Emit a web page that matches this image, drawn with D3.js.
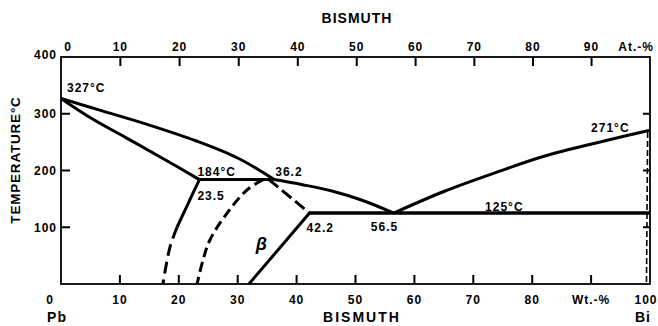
<!DOCTYPE html>
<html>
<head>
<meta charset="utf-8">
<script src="https://cdn.jsdelivr.net/npm/d3@7"></script>
<style>
  html, body { margin: 0; padding: 0; background: #fff; }
  svg { display: block; }
  text { font-family: "Liberation Sans", Arial, Helvetica, sans-serif; font-weight: bold; fill: #000; }
</style>
</head>
<body>
<svg id="chart" width="658" height="326"></svg>
<script>
// Pb–Bi phase diagram. Compositions in wt.-% Bi, temperatures in °C.

// Temperature axis
const tempTicks = [100, 200, 300];
const tempLabelValues = [100, 200, 300, 400];
const tempLabels = ["100", "200", "300", "400"];

// Composition axes
const wtTicks = [10, 20, 30, 40, 50, 60, 70, 80, 90];
const wtLabelValues = [0, 10, 20, 30, 40, 50, 60, 70, 80, 90, 100];
const wtLabels = ["0", "10", "20", "30", "40", "50", "60", "70", "80", "Wt.-%", "100"];
const atTicks = [10, 20, 30, 40, 50, 60, 70, 80, 90];
const atLabelValues = [0, 10, 20, 30, 40, 50, 60, 70, 80, 90, 100];
const atLabels = ["0", "10", "20", "30", "40", "50", "60", "70", "80", "90", "At.-%"];

// Atomic weights for converting at.-% to wt.-%
const massPb = 207.2;
const massBi = 208.98;

// Phase boundaries: [wt.-% Bi, °C]
const liquidusAlpha = [[0, 327], [7, 305], [15, 280], [23, 252], [30, 222], [36.2, 184]];
const liquidusBeta = [[36.2, 184], [41, 175], [46, 164], [51, 148], [56.5, 125]];
const liquidusBi = [[56.5, 125], [65, 163], [74, 197], [82, 225], [91, 249], [100, 271]];
const solidusAlpha = [[0, 327], [5, 293], [11, 258], [17, 223], [23.5, 184]];
const peritectic = [[23.5, 184], [36.2, 184]];
const eutectic = [[42.2, 125], [100, 125]];
const solvusAlpha = [[23.5, 184], [21.5, 140], [19.7, 100]];
const solvusAlphaLow = [[19.7, 100], [18.5, 65], [17.3, 0]];
const betaLeft = [[34.3, 184], [31.6, 166], [28.2, 125], [25.3, 78], [24.1, 42], [23.1, 0]];
const betaRightUpper = [[35.3, 184], [42.2, 125]];
const betaRightLower = [[42.2, 125], [31.9, 0]];
const solvusBi = [[99.6, 268], [99.4, 0]];

const svg = d3.select("#chart");

const x = d3.scaleLinear().domain([0, 100]).range([61, 650]);
const y = d3.scaleLinear().domain([0, 400]).range([284, 57]);
const atToWt = a => 100 * a * massBi / (a * massBi + (100 - a) * massPb);
const atPos = a => x(atToWt(a));

// Frame
svg.append("rect")
  .attr("x", x(0)).attr("y", y(400))
  .attr("width", x(100) - x(0)).attr("height", y(0) - y(400))
  .attr("fill", "none").attr("stroke", "#000").attr("stroke-width", 1.8);

// Inward ticks on all four sides, drawn as one path
const tickLen = 9;
let tickPath = "";
wtTicks.forEach(d => { tickPath += `M${x(d)},${y(0)}V${y(0) - tickLen}`; });
atTicks.forEach(d => { tickPath += `M${atPos(d)},${y(400)}V${y(400) + tickLen}`; });
tempTicks.forEach(d => { tickPath += `M${x(0)},${y(d)}H${x(0) + tickLen}`; });
tempTicks.forEach(d => { tickPath += `M${x(100)},${y(d)}H${x(100) - 7}`; });
svg.append("path")
  .attr("d", tickPath)
  .attr("fill", "none")
  .attr("stroke", "#000")
  .attr("stroke-width", 2);

// Tick labels
const labelFont = g => g.attr("font-size", 12).attr("letter-spacing", 1);

svg.append("g").call(labelFont).selectAll("text")
  .data(wtLabelValues).join("text")
  .attr("x", d => x(d) + (d === 0 ? -11 : d === 100 ? -4 : 0))
  .attr("y", 304)
  .attr("text-anchor", "middle")
  .text((d, i) => wtLabels[i]);

svg.append("g").call(labelFont).selectAll("text")
  .data(atLabelValues).join("text")
  .attr("x", d => d === 0 ? atPos(d) + 7 : d === 100 ? atPos(d) + 4 : atPos(d))
  .attr("y", 51)
  .attr("text-anchor", d => d === 100 ? "end" : "middle")
  .text((d, i) => atLabels[i]);

svg.append("g").call(labelFont).selectAll("text")
  .data(tempLabelValues).join("text")
  .attr("x", 57)
  .attr("y", d => y(d) + (d === 400 ? 2 : 4.5))
  .attr("text-anchor", "end")
  .text((d, i) => tempLabels[i]);

// Axis titles
svg.append("text").attr("x", 357).attr("y", 23).attr("text-anchor", "middle")
  .attr("font-size", 14).attr("letter-spacing", 1).text("BISMUTH");
svg.append("text").attr("x", 362).attr("y", 322).attr("text-anchor", "middle")
  .attr("font-size", 14).attr("letter-spacing", 2).text("BISMUTH");
svg.append("text").attr("x", 57).attr("y", 322).attr("text-anchor", "middle")
  .attr("font-size", 14).attr("letter-spacing", 1).text("Pb");
svg.append("text").attr("x", 643).attr("y", 322).attr("text-anchor", "middle")
  .attr("font-size", 14).attr("letter-spacing", 1).text("Bi");
svg.append("text")
  .attr("transform", "translate(20,160) rotate(-90)")
  .attr("text-anchor", "middle")
  .attr("font-size", 13.5).attr("letter-spacing", 0.8)
  .text("TEMPERATURE°C");

// Phase boundaries
const smooth = d3.line().x(d => x(d[0])).y(d => y(d[1])).curve(d3.curveCatmullRom.alpha(0.5));
const straight = d3.line().x(d => x(d[0])).y(d => y(d[1]));

const drawLine = (data, gen, width, dash) => {
  svg.append("path")
    .attr("d", gen(data))
    .attr("fill", "none")
    .attr("stroke", "#000")
    .attr("stroke-width", width)
    .attr("stroke-linecap", "butt")
    .attr("stroke-linejoin", "round")
    .attr("stroke-dasharray", dash || null);
};

drawLine(liquidusAlpha, smooth, 3);
drawLine(liquidusBeta, smooth, 3);
drawLine(liquidusBi, smooth, 3);
drawLine(solidusAlpha, smooth, 3);
drawLine(peritectic, straight, 3);
drawLine(eutectic, straight, 3.5);
drawLine(solvusAlpha, smooth, 3);
drawLine(solvusAlphaLow, smooth, 3, "12,6");
drawLine(betaLeft, smooth, 3, "10,5");
drawLine(betaRightUpper, straight, 3, "12,5");
drawLine(betaRightLower, straight, 3);
drawLine(solvusBi, straight, 1.6, "6,3");

// Point annotations
const notes = [
  { t: "327°C", x: x(0) + 6, y: y(327) - 6 },
  { t: "184°C", x: x(23.5) - 2, y: y(184) - 4 },
  { t: "36.2", x: x(36.2) + 1, y: y(184) - 4 },
  { t: "23.5", x: x(23.5) - 2, y: y(184) + 20 },
  { t: "42.2", x: x(42.2) - 3, y: y(125) + 19 },
  { t: "56.5", x: x(56.5) - 23, y: y(125) + 18 },
  { t: "125°C", x: x(72), y: y(125) - 2 },
  { t: "271°C", x: x(90), y: y(271) + 2 }
];
svg.append("g").call(labelFont).selectAll("text")
  .data(notes).join("text")
  .attr("x", d => d.x).attr("y", d => d.y)
  .text(d => d.t);

// Phase label
svg.append("text")
  .attr("x", x(34)).attr("y", y(60))
  .attr("text-anchor", "middle")
  .attr("font-family", "DejaVu Sans, sans-serif")
  .attr("font-weight", "normal")
  .attr("font-style", "italic")
  .attr("font-size", 18)
  .text("β");
</script>
</body>
</html>
